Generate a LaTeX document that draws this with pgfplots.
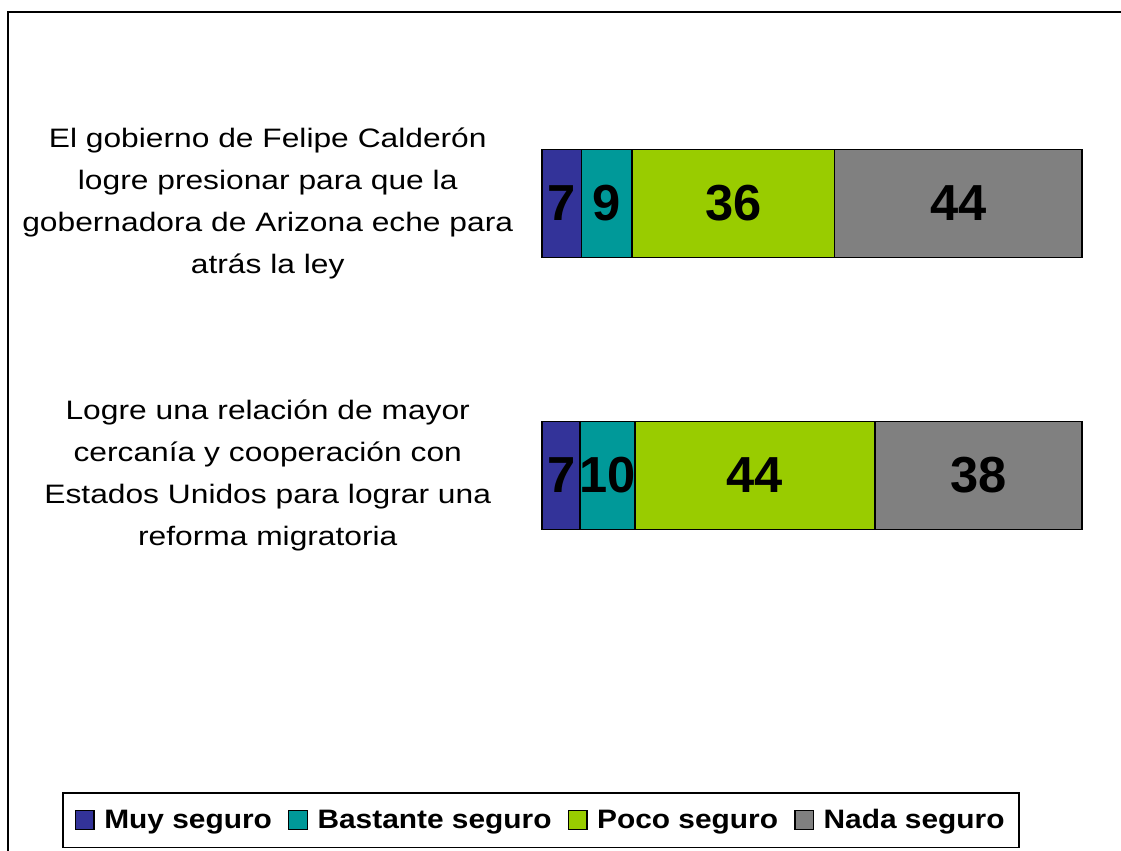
\documentclass[border=0pt]{standalone}
\usepackage{pgfplots}
\pgfplotsset{compat=1.18}
\usepackage{pgfplotstable}
\usepackage{fontspec}
\setmainfont{Liberation Sans}
\newfontfamily\labelfont[FakeStretch=1.19]{Liberation Sans}
\newfontfamily\legendfont[FakeStretch=1.12]{Liberation Sans}
\definecolor{cMuy}{HTML}{333399}
\definecolor{cBas}{HTML}{009999}
\definecolor{cPoco}{HTML}{99CC00}
\definecolor{cNada}{HTML}{808080}
\pgfplotstableread{
y muy bas poco nada
1 7 9 36 44
0 7 10 44 38
}\datatable
\newcommand\T{(\thisrow{muy}+\thisrow{bas}+\thisrow{poco}+\thisrow{nada})}
\pgfplotsset{common/.style={
 at={(406.5pt,-458.625pt)}, anchor=south west,
 scale only axis, width=405pt, height=408pt,
 xmin=0, xmax=100, ymin=-0.5, ymax=1.5, clip=false}}
\begin{document}
\begin{tikzpicture}
\useasboundingbox (0,0) rectangle (840.75pt,-637.5pt);
\begin{scope}
\clip (0,0) rectangle (840.75pt,-637.5pt);
\draw[line width=1.5pt] (6pt,-9pt) rectangle (860pt,-660pt);
\end{scope}
\begin{axis}[common,
 xbar stacked, bar width=0.397,
 axis line style={draw=none}, xtick=\empty,
 ytick={0,1}, major tick length=0pt,
 yticklabels={{Logre una relación de mayor\\cercanía y cooperación con\\Estados Unidos para lograr una\\reforma migratoria},
              {El gobierno de Felipe Calderón\\logre presionar para que la\\gobernadora de Arizona eche para\\atrás la ley}},
 yticklabel style={anchor=east, text width=390pt, align=center, inner sep=0pt, xshift=-10.5pt,
   font=\labelfont\fontsize{20}{31.5}\selectfont},
 legend columns=4,
 legend image code/.code={\draw[#1, draw=black, line width=1.1pt] (0pt,-7pt) rectangle (14pt,7pt); \path (19pt,0pt);},
 legend style={at={(axis description cs:-0.00185,-0.3833)}, anchor=center, draw=black, line width=1.2pt,
   font=\legendfont\bfseries\fontsize{20}{24}\selectfont, inner xsep=9pt, inner ysep=10.5pt,
   /tikz/every even column/.append style={column sep=10pt}},
]
\addplot[fill=cMuy, draw=black, line width=1.3pt] table[x expr={\thisrow{muy}*100/\T}, y=y] {\datatable};
\addplot[fill=cBas, draw=black, line width=1.3pt] table[x expr={\thisrow{bas}*100/\T}, y=y] {\datatable};
\addplot[fill=cPoco, draw=black, line width=1.3pt] table[x expr={\thisrow{poco}*100/\T}, y=y] {\datatable};
\addplot[fill=cNada, draw=black, line width=1.3pt] table[x expr={\thisrow{nada}*100/\T}, y=y] {\datatable};
\legend{Muy seguro, Bastante seguro, Poco seguro, Nada seguro}
\end{axis}
\begin{axis}[common, hide axis,
 point meta=explicit symbolic,
 nodes near coords,
 every node near coord/.append style={anchor=center, inner sep=0pt,
   font=\bfseries\fontsize{38}{40}\selectfont, text=black}]
\addplot[draw=none, mark=none] table[x expr={(\thisrow{muy}/2)*100/\T}, y=y, meta=muy] {\datatable};
\addplot[draw=none, mark=none] table[x expr={(\thisrow{muy}+\thisrow{bas}/2)*100/\T}, y=y, meta=bas] {\datatable};
\addplot[draw=none, mark=none] table[x expr={(\thisrow{muy}+\thisrow{bas}+\thisrow{poco}/2)*100/\T}, y=y, meta=poco] {\datatable};
\addplot[draw=none, mark=none] table[x expr={(\thisrow{muy}+\thisrow{bas}+\thisrow{poco}+\thisrow{nada}/2)*100/\T}, y=y, meta=nada] {\datatable};
\end{axis}
\end{tikzpicture}
\end{document}
